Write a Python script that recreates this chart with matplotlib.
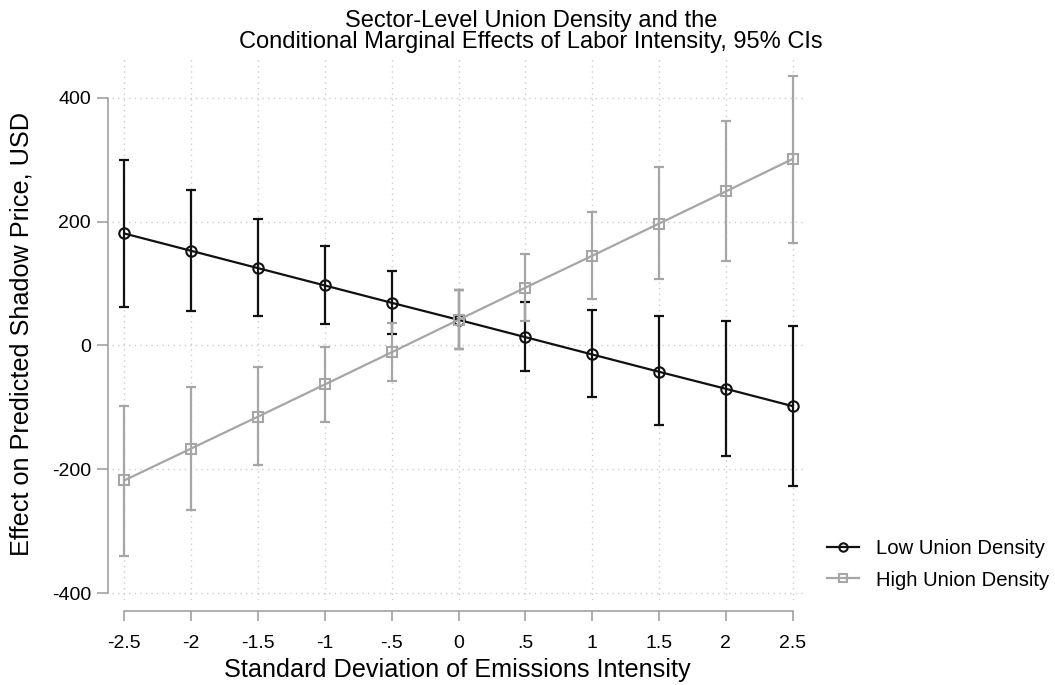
import matplotlib
matplotlib.use("Agg")
import matplotlib.pyplot as plt
from matplotlib.lines import Line2D

plt.rcParams['font.family'] = ['Liberation Sans', 'DejaVu Sans']

# ---- data ----
x_sd = [-2.5, -2, -1.5, -1, -0.5, 0, 0.5, 1, 1.5, 2, 2.5]
x_ticklabels = ["-2.5", "-2", "-1.5", "-1", "-.5", "0", ".5", "1", "1.5", "2", "2.5"]
y_ticks = [-400, -200, 0, 200, 400]

low_est = [181, 153, 125, 97, 69, 41.5, 13.5, -14.5, -42.5, -70, -98]
low_lo = [63, 56, 47, 35, 19, -6, -41, -84, -129, -178, -227]
low_hi = [300, 252, 204, 160, 121, 90, 70, 57, 47, 39, 32]

high_est = [-218, -166.5, -115, -63, -11, 41.5, 93.5, 145, 197, 249, 301.5]
high_lo = [-340, -266, -193, -123, -57, -6, 39, 75, 107, 137, 166]
high_hi = [-97, -67, -35, -2, 36, 90, 148, 216, 289, 362, 436]

series_names = ["Low Union Density", "High Union Density"]
title_lines = ["Sector-Level Union Density and the",
               "Conditional Marginal Effects of Labor Intensity, 95% CIs"]

# ---- figure ----
W, H = 1055, 685
fig = plt.figure(figsize=(W / 100, H / 100), dpi=100)
ax = fig.add_axes([112 / W, 1 - 600 / H, (805 - 112) / W, (600 - 58) / H])

ax.set_xlim(-2.592, 2.592)
ax.set_ylim(-411.3, 464.6)

BLACK = "#111111"
GREY = "#a6a6a6"
AXC = "#9a9a9a"

def draw(est, lo, hi, color, marker, ms, z):
    yerr = [[e - l for e, l in zip(est, lo)], [h - e for e, h in zip(est, hi)]]
    ax.errorbar(x_sd, est, yerr=yerr, fmt='none', ecolor=color, elinewidth=1.6,
                capsize=3.3, capthick=1.6, zorder=z)
    ax.plot(x_sd, est, color=color, lw=1.6, marker=marker, ms=ms,
            mfc='none', mec=color, mew=1.5, zorder=z + 0.5)

draw(low_est, low_lo, low_hi, BLACK, 'o', 7.5, 3)
draw(high_est, high_lo, high_hi, GREY, 's', 7, 4)

# grid
ax.set_xticks(x_sd)
ax.set_xticklabels(x_ticklabels)
ax.set_yticks(y_ticks)
ax.set_yticklabels([str(v) for v in y_ticks])
ax.grid(True, color="#cccccc", linestyle=(0, (1, 3)), linewidth=1.0)
ax.set_axisbelow(True)

for s in ['top', 'right']:
    ax.spines[s].set_visible(False)
ax.spines['left'].set_bounds(-400, 400)
ax.spines['left'].set_position(('outward', 2.7))
ax.spines['bottom'].set_bounds(-2.5, 2.5)
ax.spines['bottom'].set_position(('outward', 7.7))
for s in ['left', 'bottom']:
    ax.spines[s].set_color(AXC)
    ax.spines[s].set_linewidth(1.1)

ax.tick_params(axis='y', length=7.9, width=1.1, color=AXC, pad=4.5, labelsize=14, labelcolor='black')
ax.tick_params(axis='x', length=7.3, width=1.1, color=AXC, pad=10, labelsize=14, labelcolor='black')

# labels
fig.text(457 / W, 1 - 670 / H, "Standard Deviation of Emissions Intensity",
         ha='center', va='center', fontsize=18.2)
fig.text(22 / W, 1 - 334 / H, "Effect on Predicted Shadow Price, USD",
         ha='center', va='center', rotation=90, fontsize=18.2)
fig.text(531 / W, 1 - 26.5 / H, title_lines[0], ha='center', va='baseline', fontsize=17)
fig.text(531 / W, 1 - 48 / H, title_lines[1], ha='center', va='baseline', fontsize=17)

# legend
handles = [
    Line2D([], [], color=BLACK, lw=1.6, marker='o', ms=6, mfc='none', mec=BLACK, mew=1.5),
    Line2D([], [], color=GREY, lw=1.6, marker='s', ms=6, mfc='none', mec=GREY, mew=1.5),
]
fig.legend(handles, series_names, loc='upper left', bbox_to_anchor=(827 / W, 1 - 539 / H),
           frameon=False, borderpad=0, borderaxespad=0, fontsize=14.6,
           handlelength=1.58, handletextpad=0.84, labelspacing=0.62)

fig.savefig("out.png", dpi=100)
